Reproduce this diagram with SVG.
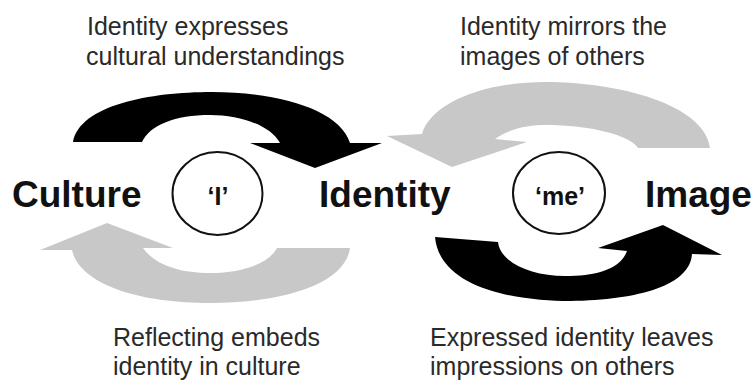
<svg xmlns="http://www.w3.org/2000/svg" width="755" height="381" viewBox="0 0 755 381">
<style>
.big{font-family:"Liberation Sans",Arial,sans-serif;font-weight:bold;font-size:37px;fill:#111}
.lbl{font-family:"Liberation Sans",Arial,sans-serif;font-size:25px;fill:#2a2a2a}
.ring{fill:none;stroke:#111;stroke-width:2}
.in{font-family:"Liberation Sans",Arial,sans-serif;font-weight:bold;font-size:25px;fill:#111;text-anchor:middle}
.dark{fill:#000}
.light{fill:#c8c8c8}
</style>
<rect width="755" height="381" fill="#fff"/>
<g id="connectors">
<path class="dark" d="M73,142 C80,105 150,92 212,92 C280,92 340,110 350,143 L382,143 L315,168 L250,143 L280,143 C270,125 240,115 210,115 C175,115 150,125 142,142 Z"/>
<path class="light" d="M710,148 C705,105 620,82 545,82 C480,82 430,105 422,134 L387,136 L452,167 L527,142 L495,139 C510,128 530,125 545,125 C590,125 630,135 638,148 Z"/>
<path class="light" d="M350,248 C345,285 280,303 210,303 C140,303 80,285 72,250 L40,250 L107,223 L173,248 L143,248 C155,265 180,273 210,273 C245,273 270,262 277,248 Z"/>
<path class="dark" d="M435,237 C440,290 520,301 570,301 C640,300 690,285 692,254 L722,255 L663,225 L598,248 L627,251 C620,270 595,276 565,276 C530,276 500,262 498,242 Z"/>
</g>
<g id="culture"><text class="big" x="12" y="207">Culture</text></g>
<g id="identity"><text class="big" x="319" y="207">Identity</text></g>
<g id="image"><text class="big" x="645" y="207">Image</text></g>
<g id="i-node"><ellipse class="ring" cx="217.5" cy="193.5" rx="45" ry="41.5"/><text class="in" x="218" y="205">‘I’</text></g>
<g id="me-node"><ellipse class="ring" cx="559" cy="193" rx="46" ry="41"/><text class="in" x="560" y="205">‘me’</text></g>
<g id="label-tl"><text class="lbl" x="87" y="35">Identity expresses</text><text class="lbl" x="86" y="65">cultural understandings</text></g>
<g id="label-tr"><text class="lbl" x="460" y="35">Identity mirrors the</text><text class="lbl" x="460" y="65">images of others</text></g>
<g id="label-bl"><text class="lbl" x="113" y="346">Reflecting embeds</text><text class="lbl" x="113" y="375">identity in culture</text></g>
<g id="label-br"><text class="lbl" x="430" y="346">Expressed identity leaves</text><text class="lbl" x="430" y="375">impressions on others</text></g>
</svg>
